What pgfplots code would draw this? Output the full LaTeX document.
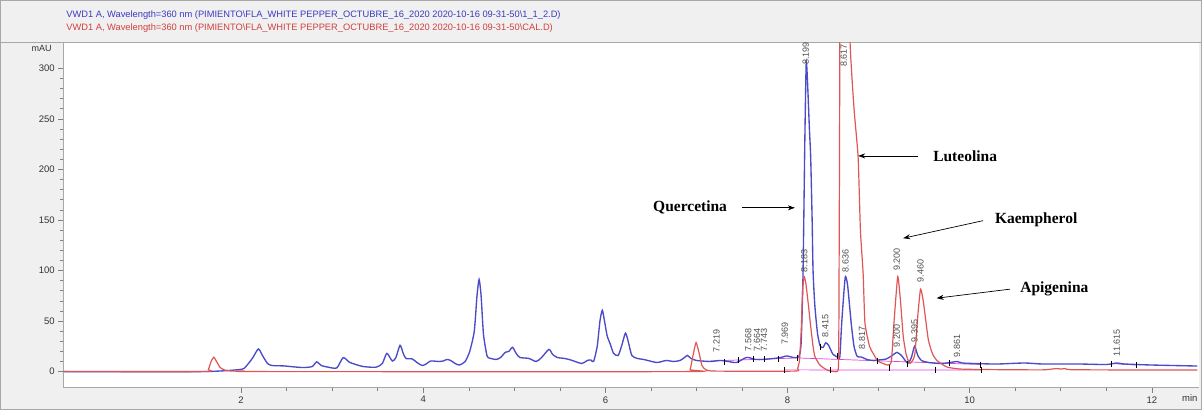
\documentclass[border=0pt]{standalone}
\usepackage{fontspec}
\setmainfont{Liberation Sans}
\newfontfamily\annot{Liberation Serif}
\usepackage{pgfplots}
\pgfplotsset{compat=1.18}
\usetikzlibrary{arrows.meta}

\definecolor{bgc}{HTML}{F0F0F0}
\definecolor{framec}{HTML}{A8A8A8}
\definecolor{sampleblue}{HTML}{4B4BC8}
\definecolor{calred}{HTML}{E05555}
\definecolor{titleblue}{HTML}{3A3AC0}
\definecolor{titlered}{HTML}{D04040}
\definecolor{integ}{HTML}{E040E0}
\definecolor{rtlabel}{HTML}{505050}

\begin{document}
\begin{tikzpicture}
% window background
\fill[bgc] (0,0) rectangle (1202pt,410pt);
\draw[framec] (0.5pt,0.5pt) rectangle (1201.5pt,409.5pt);
\draw[framec] (0,367.5pt) -- (1202pt,367.5pt);

\node[anchor=west, text=titleblue, font=\fontsize{9.3}{10}\selectfont, inner sep=0pt] at (66pt,395pt)
  {VWD1 A, Wavelength=360 nm (PIMIENTO\textbackslash FLA\_WHITE PEPPER\_OCTUBRE\_16\_2020 2020-10-16 09-31-50\textbackslash 1\_1\_2.D)};
\node[anchor=west, text=titlered, font=\fontsize{9.3}{10}\selectfont, inner sep=0pt] at (66pt,382pt)
  {VWD1 A, Wavelength=360 nm (PIMIENTO\textbackslash FLA\_WHITE PEPPER\_OCTUBRE\_16\_2020 2020-10-16 09-31-50\textbackslash CAL.D)};

\begin{axis}[
  at={(63pt,22pt)}, anchor=south west,
  scale only axis, width=1136pt, height=345pt,
  xmin=0.046, xmax=12.516, ymin=-16.1, ymax=325,
  axis background/.style={fill=white},
  axis x line*=bottom, axis y line*=left,
  axis line style={framec, line width=0.8pt},
  xtick={2,4,6,8,10,12}, minor x tick num=3,
  ytick={0,50,100,150,200,250,300}, minor y tick num=4,
  tick align=outside,
  major tick length=5pt, minor tick length=3pt,
  tick style={gray, line width=0.6pt},
  /pgf/number format/assume math mode=true,
  ticklabel style={font=\fontsize{9.5}{10}\selectfont, text=black!80},
  clip=true,
]
% integration baselines
\addplot[integ, line width=0.7pt] coordinates {(7.15,10.5) (8.11,13.5)};
\addplot[integ, line width=0.7pt] coordinates {(8.11,13.5) (10.12,7)};
\addplot[integ, line width=0.7pt] coordinates {(7.96,1.7) (10.13,1.5)};
\addplot[integ, line width=0.7pt] coordinates {(11.55,8) (11.83,6.5)};

% sample (blue)
\addplot[sampleblue, line width=1.35pt, smooth, tension=0.4] coordinates {
(0.05,0) (1.5,0) (1.7,0.3) (1.85,1) (1.98,2) (2.03,3) (2.08,8) (2.13,14) (2.19,22.4)
(2.24,15) (2.29,8) (2.34,6) (2.47,5.6) (2.6,4.5) (2.69,4) (2.78,5) (2.83,9.6) (2.88,6)
(2.95,4.5) (3.05,3.6) (3.12,13.8) (3.19,9.2) (3.26,7) (3.34,5) (3.48,4.3) (3.55,8)
(3.60,18) (3.66,10.5) (3.70,14) (3.745,26) (3.78,18) (3.81,13) (3.88,12.5) (3.93,9)
(3.99,6) (4.04,8) (4.08,10.5) (4.17,10) (4.22,10.5) (4.26,12) (4.30,11) (4.36,7.5)
(4.40,6.6) (4.46,10) (4.51,20) (4.56,40) (4.59,75) (4.613,91) (4.635,75) (4.66,38)
(4.69,20) (4.71,14) (4.80,12) (4.85,14) (4.90,19) (4.94,20) (4.98,24) (5.02,18)
(5.06,14) (5.16,13) (5.24,10) (5.30,14) (5.38,22) (5.42,17) (5.47,14) (5.55,13)
(5.62,11.5) (5.74,8) (5.80,11) (5.84,11.5) (5.87,10) (5.91,25) (5.94,50) (5.966,60.6)
(5.99,50) (6.02,35) (6.05,28) (6.09,18) (6.14,16) (6.18,26) (6.22,38) (6.25,30)
(6.29,16) (6.35,13) (6.42,12) (6.56,9) (6.62,10) (6.67,11) (6.75,10) (6.82,11)
(6.87,14) (6.90,16) (6.94,13) (7.00,11) (7.15,10) (7.26,11) (7.35,10) (7.44,9)
(7.55,14) (7.65,12) (7.73,12) (7.85,13) (7.93,14) (7.99,15.5) (8.06,14) (8.10,14)
(8.13,16) (8.15,30) (8.17,97) (8.19,230) (8.205,305) (8.22,285) (8.24,240) (8.254,212)
(8.27,150) (8.28,100) (8.30,65) (8.33,37) (8.36,25) (8.39,24) (8.42,28.5) (8.45,26)
(8.50,17) (8.56,14) (8.575,15.5) (8.594,47) (8.62,80) (8.636,94) (8.66,85) (8.70,47)
(8.73,25) (8.765,15) (8.81,14.5) (8.87,12) (8.94,11) (9.00,11.5) (9.085,12.5)
(9.15,16) (9.20,19) (9.25,16) (9.30,10) (9.325,8.5) (9.36,14) (9.395,25) (9.43,16)
(9.47,11) (9.55,9) (9.67,8) (9.75,8.5) (9.82,9.5) (9.86,10) (9.92,8.5) (10.04,8)
(10.3,7.5) (10.6,8.5) (10.8,7.5) (11.2,7.5) (11.5,7) (11.615,8.5) (11.7,7.5)
(12.0,6.5) (12.5,5.5)
};

% calibration standard (red)
\addplot[calred, line width=1.2pt, smooth, tension=0.3] coordinates {
(0.05,0) (1.60,0) (1.64,2) (1.67,10) (1.70,14.2) (1.73,10) (1.77,4) (1.82,1.5)
(1.9,0.5) (2.0,0.5) (2.2,0) (6.90,0) (6.93,2) (6.96,15) (6.995,28.7) (7.03,18)
(7.06,6) (7.10,2) (7.2,0.5) (8.08,0.5) (8.11,3) (8.13,10) (8.15,40) (8.165,80)
(8.18,94) (8.20,88) (8.23,65) (8.25,48) (8.28,25) (8.30,15) (8.35,7) (8.39,4)
(8.45,1) (8.55,0.5) (8.562,20) (8.57,200) (8.58,450) (8.62,700) (8.66,500)
(8.685,330) (8.73,260) (8.775,212) (8.80,140) (8.83,97) (8.85,48) (8.90,25)
(8.94,18) (8.99,10.5) (9.05,8) (9.10,6.5) (9.14,10) (9.17,50) (9.21,94) (9.24,70)
(9.27,35) (9.30,18) (9.32,12) (9.345,8) (9.38,12) (9.40,19) (9.43,55) (9.46,81.5)
(9.49,70) (9.545,32) (9.59,18) (9.64,11) (9.75,4.5) (9.9,2.5) (10.2,2) (10.8,1.7)
(10.95,3) (11.0,2.5) (11.05,3) (11.15,1.8) (12.5,1.5)
};

% integration event ticks
\addplot[only marks, mark=|, mark size=3pt, black, mark options={line width=0.6pt}] coordinates {
(7.31,9) (7.46,11) (7.62,12) (7.75,12) (7.90,12.5) (8.11,13.5) (7.96,1.7) (8.47,1.7)
(8.36,24) (8.55,15) (8.98,10.5) (9.12,4) (9.32,8) (9.62,2) (9.78,8.5) (10.13,1.5)
(10.12,7) (11.55,8) (11.83,6.5)
};

% retention time labels
\begin{scope}[every node/.style={rotate=90, anchor=west, inner sep=0.5pt, text=rtlabel, font=\fontsize{9}{10}\selectfont}]
\node at (axis cs:7.219,18.5) {7.219};
\node at (axis cs:7.568,19.5) {7.568};
\node at (axis cs:7.664,19.5) {7.664};
\node at (axis cs:7.743,19.5) {7.743};
\node at (axis cs:7.969,26) {7.969};
\node at (axis cs:8.183,97.6) {8.183};
\node at (axis cs:8.199,303) {8.199};
\node at (axis cs:8.415,33.3) {8.415};
\node at (axis cs:8.636,97.6) {8.636};
\node at (axis cs:8.617,301) {8.617};
\node at (axis cs:8.817,21.5) {8.817};
\node at (axis cs:9.200,98.8) {9.200};
\node at (axis cs:9.460,87.7) {9.460};
\node at (axis cs:9.200,23.4) {9.200};
\node at (axis cs:9.395,28.4) {9.395};
\node at (axis cs:9.861,13.5) {9.861};
\node at (axis cs:11.615,14.5) {11.615};
\end{scope}

% compound annotations
\begin{scope}[every node/.style={font=\annot\bfseries\fontsize{15.5}{17}\selectfont}]
\node at (axis cs:6.93,162) {Quercetina};
\node at (axis cs:9.95,213.3) {Luteolina};
\node at (axis cs:10.73,150) {Kaempherol};
\node at (axis cs:10.93,81.5) {Apigenina};
\end{scope}
\draw[-{Stealth[length=7pt,width=5pt]}, line width=0.7pt] (axis cs:7.50,162) -- (axis cs:8.08,162);
\draw[-{Stealth[length=7pt,width=5pt]}, line width=0.7pt] (axis cs:9.435,213.3) -- (axis cs:8.776,213.3);
\draw[-{Stealth[length=7pt,width=5pt]}, line width=0.7pt] (axis cs:10.148,149.3) -- (axis cs:9.27,131.9);
\draw[-{Stealth[length=7pt,width=5pt]}, line width=0.7pt] (axis cs:10.44,81.5) -- (axis cs:9.637,72.6);
\end{axis}

\node[anchor=east, font=\fontsize{9}{10}\selectfont, text=black!80] at (55pt,362pt) {mAU};
\node[font=\fontsize{9.5}{10}\selectfont, text=black!80] at (1190pt,12pt) {min};
\end{tikzpicture}
\end{document}
